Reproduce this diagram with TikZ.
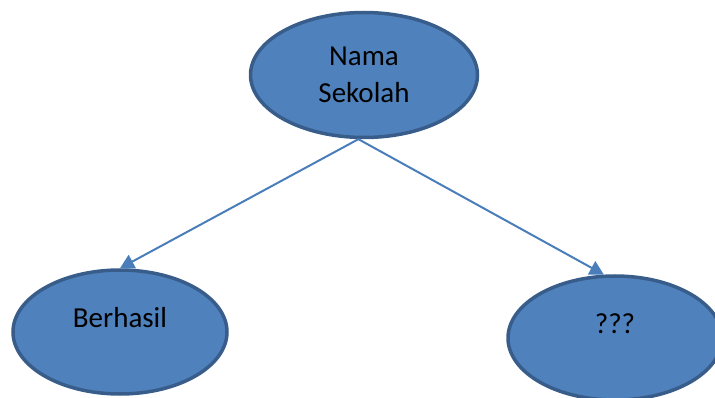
\documentclass[tikz,border=0pt]{standalone}
\usepackage{fontspec}
\setmainfont{Carlito}
\usetikzlibrary{arrows.meta, positioning, shapes.geometric}

\definecolor{ovalfill}{HTML}{4F81BD}
\definecolor{ovalline}{HTML}{385D8A}
\definecolor{linkline}{HTML}{4A7EBB}

\begin{document}
\begin{tikzpicture}[>={Triangle[length=14pt, width=15pt]}, x=1pt, y=-1pt,
    oval/.style={ellipse, draw=ovalline, line width=3.5pt, fill=ovalfill,
                 inner sep=0pt, minimum width=214pt, minimum height=124pt,
                 font=\fontsize{29}{37}\selectfont},
    link/.style={->, draw=linkline, line width=2pt}]
  \useasboundingbox (0,0) rectangle (715,398);

  \node[oval, minimum width=227pt, minimum height=125pt, align=center]
    (school) at (364,75) {Nama\\Sekolah};
  \node[oval, text height=20pt, text depth=30pt] (ok) at (120,332) {Berhasil};
  \node[oval, text height=20pt, text depth=30pt] (unknown) at (615,338) {???};

  \draw[link] (school.265) -- (ok.north);
  \draw[link] (school.265) -- (unknown.100);
\end{tikzpicture}
\end{document}
